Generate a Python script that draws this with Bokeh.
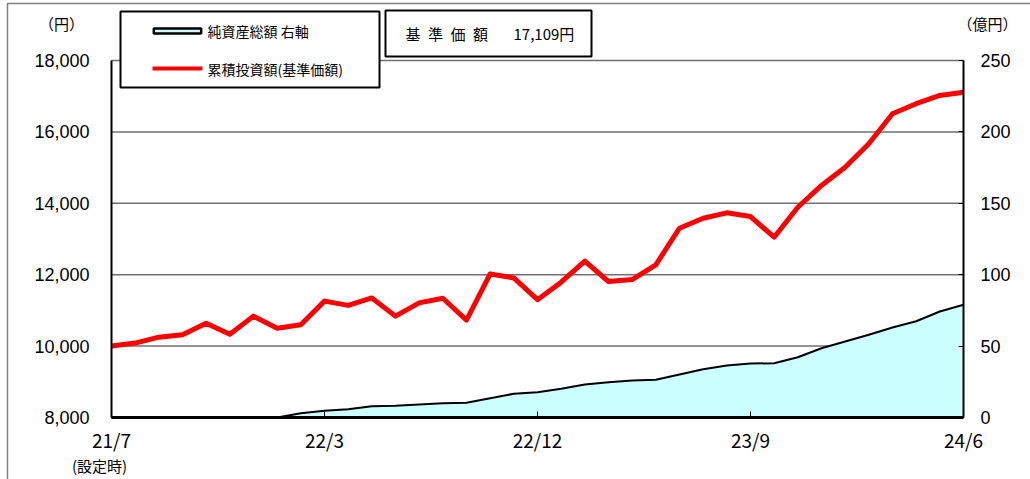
from bokeh.plotting import figure
from bokeh.models import (Range1d, LinearAxis, FixedTicker, NumeralTickFormatter,
                          BoxAnnotation, Label)
from bokeh.embed import file_html
from bokeh.resources import INLINE

# ---- data -------------------------------------------------------------
# index 0 = setting date (21/7), then month ends 21/7 ... 24/6
months = list(range(37))
tick_pos = [0, 9, 18, 27, 36]
tick_labels = ["21/7", "22/3", "22/12", "23/9", "24/6"]

# 累積投資額(基準価額)  (円, left axis)
nav = [10000, 10085, 10250, 10320, 10640, 10330, 10840, 10500, 10600, 11260,
       11140, 11350, 10840, 11210, 11340, 10730, 12020, 11910, 11300, 11790,
       12380, 11810, 11865, 12277, 13303, 13583, 13733, 13630, 13050, 13890,
       14500, 15010, 15670, 16510, 16790, 17020, 17109]

# 純資産総額 (億円, right axis)
net_assets = [0, 0, 0, 0, 0, 0, 0, 0, 3.0, 4.7,
              5.8, 7.9, 8.2, 9.1, 10.0, 10.3, 13.5, 16.6, 17.7, 20.1,
              23.1, 24.7, 25.9, 26.4, 30.1, 33.8, 36.4, 37.8, 38.0, 42.2,
              48.5, 53.2, 57.9, 63.0, 67.4, 74.2, 78.9]

left_ticks = [8000, 10000, 12000, 14000, 16000, 18000]
right_ticks = [0, 50, 100, 150, 200, 250]
grid_ticks = [10000, 12000, 14000, 16000, 18000]

legend_labels = ["純資産総額 右軸", "累積投資額(基準価額)"]
price_label = "基\u2002準\u2002価\u2002額"
price_value = "17,109円"

JP = "Noto Sans CJK JP"
NUM = "Liberation Sans"

# ---- layout (pixels) --------------------------------------------------
W, H = 1030, 479
PL, PR, PT, PB = 111, 963, 60, 417       # plot-area edges on the canvas
X0, X1 = months[0], months[-1]
Y0, Y1 = left_ticks[0], left_ticks[-1]
R0, R1 = right_ticks[0], right_ticks[-1]

sx = (PR - PL) / (X1 - X0)
sy = (PB - PT) / (Y1 - Y0)
sr = (PB - PT) / (R1 - R0)

p = figure(width=W, height=H, output_backend="svg", toolbar_location=None,
           title=None,
           x_range=Range1d(X0 - PL / sx, X1 + (W - PR) / sx),
           y_range=Range1d(Y0 - (H - PB) / sy, Y1 + PT / sy),
           min_border=0, min_border_left=0, min_border_right=0,
           min_border_top=0, min_border_bottom=0)
p.extra_y_ranges = {"right": Range1d(R0 - (H - PB) / sr, R1 + PT / sr)}
p.background_fill_color = "white"
p.border_fill_color = "white"
p.outline_line_color = None
p.grid.visible = False

# x axis (fixed at the bottom of the plot area)
xa = p.xaxis[0]
xa.fixed_location = Y0
xa.bounds = (X0, X1)
xa.ticker = FixedTicker(ticks=tick_pos)
xa.major_label_overrides = {t: l for t, l in zip(tick_pos, tick_labels)}
xa.axis_line_color = "black"
xa.axis_line_width = 3
xa.major_tick_in = 6
xa.major_tick_out = 0
xa.major_tick_line_color = "black"
xa.minor_tick_line_color = None
xa.major_label_text_font = JP
xa.major_label_text_font_size = "19px"
xa.major_label_text_color = "black"
xa.major_label_standoff = 8

# left y axis
ya = p.yaxis[0]
ya.fixed_location = X0
ya.bounds = (Y0, Y1)
ya.ticker = FixedTicker(ticks=left_ticks)
ya.formatter = NumeralTickFormatter(format="0,0")
ya.axis_line_color = "black"
ya.axis_line_width = 2
ya.major_tick_in = 0
ya.major_tick_out = 0
ya.minor_tick_line_color = None
ya.major_label_text_font = NUM
ya.major_label_text_font_size = "18px"
ya.major_label_text_color = "black"
ya.major_label_standoff = 22

# right y axis
ra = LinearAxis(y_range_name="right", fixed_location=X1, bounds=(R0, R1),
                ticker=FixedTicker(ticks=right_ticks))
ra.axis_line_color = "black"
ra.axis_line_width = 2
ra.major_tick_in = 5
ra.major_tick_out = 0
ra.major_tick_line_color = "black"
ra.minor_tick_line_color = None
ra.major_label_text_font = NUM
ra.major_label_text_font_size = "18px"
ra.major_label_text_color = "black"
ra.major_label_standoff = 17
p.add_layout(ra, "right")

# horizontal grid lines across the plot area only
p.segment(x0=[X0] * len(grid_ticks), x1=[X1] * len(grid_ticks),
          y0=grid_ticks, y1=grid_ticks, line_color="#707070", line_width=1.5)

# ---- series -----------------------------------------------------------
p.varea(x=months, y1=0, y2=net_assets, y_range_name="right",
        fill_color="#CCFFFF", fill_alpha=1.0)
p.line(months, net_assets, y_range_name="right", line_color="black",
       line_width=2)
p.line(months, nav, line_color="#FF0000", line_width=5, line_join="round")


def cbox(l, r, t, b, **kw):
    kw.setdefault("line_alpha", 1.0)
    return BoxAnnotation(left=l, right=r, top=t, bottom=b,
                         left_units="canvas", right_units="canvas",
                         top_units="canvas", bottom_units="canvas", **kw)


def clabel(x, y, text, size, align="left"):
    return Label(x=x, y=y, x_units="canvas", y_units="canvas", text=text,
                 text_font=JP, text_font_size=size, text_color="black",
                 text_baseline="middle", text_align=align)


# ---- outer frame ------------------------------------------------------
p.add_layout(cbox(7, W + 20, 3, H + 20, fill_alpha=0,
                  line_color="#808080", line_width=1.5))

# ---- legend -----------------------------------------------------------
p.add_layout(cbox(120, 379, 11, 87, fill_color="white", fill_alpha=1.0,
                  line_color="black", line_width=2))
p.add_layout(cbox(153.3, 200.7, 28, 33, fill_color="#CCFFFF", fill_alpha=1.0,
                  line_color="black", line_width=2.5))
p.add_layout(cbox(152, 202, 66, 70, fill_color="#FF0000", fill_alpha=1.0,
                  line_color=None))
for lbl, yy in zip(legend_labels, [30, 68]):
    p.add_layout(clabel(207, yy, lbl, "14px"))

# ---- price box --------------------------------------------------------
p.add_layout(cbox(385, 591, 10, 56, fill_color="white", fill_alpha=1.0,
                  line_color="black", line_width=2))
p.add_layout(clabel(405, 33, price_label, "15px"))
p.add_layout(clabel(513, 33, price_value, "15px"))

# ---- unit labels ------------------------------------------------------
p.add_layout(clabel(61, 23, "（円）", "15px", "center"))
p.add_layout(clabel(987, 23, "（億円）", "15px", "center"))
p.add_layout(clabel(99, 465, "(設定時)", "15px", "center"))

open("out.html", "w").write(file_html(p, INLINE))
